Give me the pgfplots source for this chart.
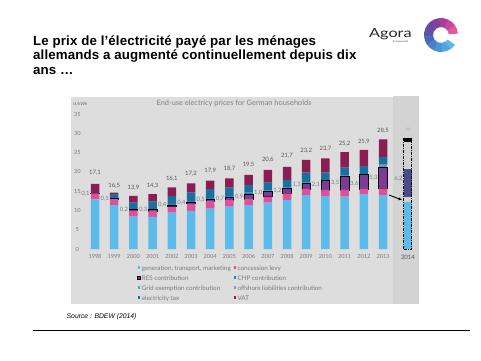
\documentclass[border=0pt]{standalone}
\usepackage{pgfplots}
\usepackage{pgfplotstable}
\pgfplotsset{compat=1.18}
\usetikzlibrary{arrows.meta}
\usepackage{fontspec}
\setmainfont{Liberation Sans}
\newfontfamily\titlefont[LetterSpace=1]{Liberation Sans}
\newfontfamily\lato{Lato}
\newfontfamily\latowide[FakeStretch=1.3]{Lato}
\definecolor{cgen}{HTML}{5BBCEB}
\definecolor{cconc}{HTML}{DE5198}
\definecolor{cres}{HTML}{7D3B97}
\definecolor{cchp}{HTML}{1E88BE}
\definecolor{cgrid}{HTML}{3DB5AE}
\definecolor{coff}{HTML}{8C90C8}
\definecolor{ctax}{HTML}{19709F}
\definecolor{cvat}{HTML}{8B1E50}
\definecolor{cnavy}{HTML}{4B4B8C}
\definecolor{panel}{HTML}{DDDDDD}
\definecolor{panelb}{HTML}{D3D3D3}
\definecolor{txtg}{HTML}{7A7A7A}
\definecolor{txtd}{HTML}{555555}
\newcommand{\tfont}{\lato\fontsize{5.6}{6.5}\selectfont}
\newcommand{\lfont}{\lato\fontsize{5.9}{6.5}\selectfont}
\newcommand{\gfont}{\lato\fontsize{6.3}{7}\selectfont}
\pgfplotstableread{
x gen conc res chp grid off tax vat
0 12.9 1.5 0.1 0 0 0 0 2.4
1 11.4 1.6 0.2 0 0 0 1.1 0.3
2 8.4 1.6 0.2 0 0 0 1.8 1.8
3 8.3 1.6 0.3 0 0 0 2.1 1.9
4 9.4 1.6 0.4 0.3 0 0 2.0 2.3
5 9.9 1.9 0.4 0.3 0 0 2.1 2.4
6 10.5 1.9 0.5 0.3 0 0 2.3 2.2
7 11.0 1.7 0.7 0.3 0 0 2.2 2.4
8 11.4 1.6 1.3 0.3 0 0 2.0 2.6
9 12.0 1.6 1.3 0.3 0 0 2.0 3.3
10 12.7 1.7 1.3 0.2 0 0 2.0 3.4
11 14.0 1.6 1.4 0.2 0 0 2.6 3.3
12 13.7 1.6 2.4 0.1 0 0 2.0 3.7
13 13.6 1.7 3.6 0.1 0 0 2.1 4.0
14 14.2 1.4 3.8 0.1 0 0 2.0 4.2
15 14.0 1.7 5.5 0.1 0.35 0.2 2.0 4.55
}\data
\begin{document}
\begin{tikzpicture}[x=1pt,y=1pt]
\useasboundingbox (0,0) rectangle (481,360);
\fill[white] (0,0) rectangle (481,360);
% title
\node[anchor=base west,inner sep=0,font=\titlefont\bfseries\fontsize{13.3}{14}\selectfont] at (33,315) {Le prix de l’électricité payé par les ménages};
\node[anchor=base west,inner sep=0,font=\titlefont\bfseries\fontsize{13.3}{14}\selectfont] at (33,300.3) {allemands a augmenté continuellement depuis dix};
\node[anchor=base west,inner sep=0,font=\titlefont\bfseries\fontsize{13.3}{14}\selectfont] at (33,285.5) {ans …};
% logo
\node[anchor=base west,inner sep=0,font=\latowide\fontsize{12.5}{13}\selectfont,text=black!85] at (369,322.5) {Agora};
\node[anchor=west,inner sep=0,font=\lato\fontsize{2.4}{3}\selectfont,text=black!70] at (393,318.3) {Energiewende};
\foreach \a/\b/\c in {5/36/E05A9E,35/66/C9479A,65/96/A63F9C,95/126/873D9E,125/156/6E45A2,155/186/5A55AA,185/216/4D68B5,215/246/4A80C8,245/276/4896D8,275/306/4CA8E2,305/325/58B8EA}{
  \definecolor{lc}{HTML}{\c}
  \fill[lc,shift={(441,325)}] (\a:17pt) arc[start angle=\a,end angle=\b,radius=17pt] -- (\b:8pt) arc[start angle=\b,end angle=\a,radius=8pt] -- cycle;
}
% panels
\fill[panel] (71,56) rectangle (393,263);
\fill[panelb] (393,56) rectangle (419,264);
\node[font=\lato\fontsize{7.4}{8}\selectfont,text=black!50] at (234,257) {End-use electricy prices for German households};
\node[anchor=west,inner sep=0,font=\lato\fontsize{4.3}{5}\selectfont,text=black!60] at (72.7,255.7) {ct/kWh};
% source and rule
\node[anchor=west,inner sep=0,font=\itshape\fontsize{6.8}{8}\selectfont] at (66.5,43.3) {Source : BDEW (2014)};
\draw[line width=0.8pt] (33,30) -- (470,30);
% main chart
\begin{axis}[
  at={(95pt,111pt)}, anchor=origin,
  x=19.2pt, y=3.857pt,
  xmin=-0.92, xmax=16.875, ymin=0, ymax=35,
  ybar stacked, bar width=8.5pt,
  axis line style={draw=none}, tick style={draw=none},
  xtick={0,...,15},
  xticklabels={1998,1999,2000,2001,2002,2003,2004,2005,2006,2007,2008,2009,2010,2011,2012,2013},
  ytick={0,5,10,15,20,25,30,35},
  /pgf/number format/assume math mode=true,
  xticklabel style={anchor=center,yshift=-7pt,font=\tfont,text=txtg},
  yticklabel style={anchor=center,font=\tfont,text=txtg},
  clip=false,
  every axis plot/.append style={draw=none},
  legend columns=2,
  legend cell align=left,
  legend image code/.code={\path[#1] (0pt,-0.6pt) rectangle (2.8pt,2.2pt);},
  legend style={draw=none, fill=none, at={(0.166,-0.104)}, anchor=north west,
    font=\gfont, text=txtg, row sep=3.1pt,
    nodes={inner sep=0.6pt, text height=4.4pt, text depth=1.3pt},
    /tikz/every odd column/.append style={column sep=0.6pt},
    /tikz/every even column/.append style={column sep=2.2pt}},
]
\addplot[fill=cgen] table[x=x,y=gen]{\data};
\addlegendentry{generation, transport, marketing}
\addplot[fill=cconc] table[x=x,y=conc]{\data};
\addlegendentry{concession levy}
\addplot[fill=cres,draw=black,line width=0.6pt] table[x=x,y=res]{\data};
\addlegendentry{RES contribution}
\addplot[fill=cchp] table[x=x,y=chp]{\data};
\addlegendentry{CHP contribution}
\addplot[fill=cgrid] table[x=x,y=grid]{\data};
\addlegendentry{Grid exemption contribution}
\addplot[fill=coff] table[x=x,y=off]{\data};
\addlegendentry{offshore liabilities contribution}
\addplot[fill=ctax] table[x=x,y=tax]{\data};
\addlegendentry{electricity tax}
\addplot[fill=cvat] table[x=x,y=vat]{\data};
\addlegendentry{VAT}
% totals
\foreach \i/\y/\t in {0/19.8/{17,1},1/16.5/{16,5},2/16.0/{13,9},3/16.3/{14,3},4/18.1/{16,1},5/19.4/{17,2},6/20.2/{17,9},7/20.9/{18,7},8/21.8/{19,5},9/23.1/{20,6},10/24.1/{21,7},11/25.5/{23,2},12/26.1/{23,7},13/27.4/{25,2},14/27.8/{25,9},15/30.7/{28,5}}{
  \edef\temp{\noexpand\node[font=\noexpand\lfont,text=txtd,inner sep=0] at (axis cs:\i,\y) {\t};}\temp
}
% RES labels
\foreach \i/\y/\t in {0/14.4/{0,1},1/13.1/{0,1},2/10.3/{0,2},3/10.3/{0,3},4/11.4/{0,4},5/12.1/{0,4},6/12.7/{0,5},7/13.0/{0,7},8/13.6/{0,9},9/14.6/{1,0},10/15.1/{1,2},11/16.6/{1,3},12/16.6/{2,1},13/17.2/{3,5},14/16.8/{3,6},15/18.6/{5,3}}{
  \edef\temp{\noexpand\node[font=\noexpand\lfont,text=txtg,inner sep=0,anchor=east] at (axis cs:\i-0.27,\y) {\t};}\temp
}
\end{axis}
% 2014 projection
\begin{axis}[
  at={(95pt,111pt)}, anchor=origin,
  x=19.2pt, y=3.857pt,
  xmin=-0.92, xmax=16.875, ymin=0, ymax=35,
  ybar stacked, bar width=8pt,
  axis line style={draw=none}, tick style={draw=none},
  xtick={16.3}, xticklabels={2014}, ytick=\empty,
  xticklabel style={anchor=center,yshift=-8pt,font=\lato\fontsize{6}{7}\selectfont,text=txtd},
  clip=false,
]
\addplot[fill=cgen,draw=none] coordinates {(16.3,12.1)};
\addplot[fill=none,draw=none] coordinates {(16.3,1.5)};
\addplot[fill=cnavy,draw=none] coordinates {(16.3,7.1)};
\addplot[fill=none,draw=none] coordinates {(16.3,7.1)};
\addplot[fill=black,draw=none] coordinates {(16.3,0.9)};
\node[font=\lfont,text=black!35,inner sep=0] at (axis cs:16.3,30.8) {??};
\node[font=\lfont,text=txtg,inner sep=0,anchor=east] at (axis cs:16.03,18.3) {6,2};
\draw[-{Latex[length=3.5pt,width=3pt]},line width=0.9pt] (axis cs:15.31,14.0) -- (axis cs:16.0,12.7);
\end{axis}
\begin{axis}[
  at={(95pt,111pt)}, anchor=origin,
  x=19.2pt, y=3.857pt,
  xmin=-0.92, xmax=16.875, ymin=0, ymax=35,
  hide axis, clip=false,
]
\addplot[ybar,bar width=8pt,fill=none,draw=black,line width=1pt,dash pattern=on 3pt off 1pt on 1pt off 1pt] coordinates {(16.3,28.7)};
\end{axis}
\end{tikzpicture}
\end{document}
